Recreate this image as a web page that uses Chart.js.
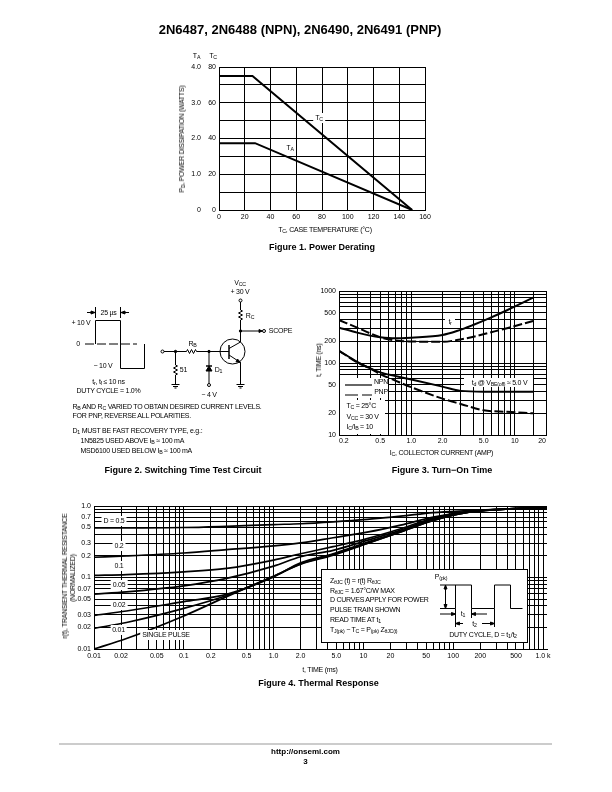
<!DOCTYPE html>
<html>
<head>
<meta charset="utf-8">
<title>2N6487 charts</title>
<script src="https://cdn.jsdelivr.net/npm/chart.js@4/dist/chart.umd.min.js"></script>
<style>
  html, body { margin: 0; background: #fff; }
  #page { position: relative; width: 612px; height: 792px; overflow: hidden; font-family: "Liberation Sans", sans-serif; color: #000; }
  canvas { position: absolute; }
  #art { position: absolute; left: 0; top: 0; }
  .t { position: absolute; white-space: nowrap; font-size: 7px; line-height: 8px; letter-spacing: -0.25px; }
  .t span { display: inline-block; will-change: opacity; }
  .t sub { font-size: 0.75em; vertical-align: -0.25em; line-height: 0; }
  .b { font-weight: bold; font-size: 9px; letter-spacing: 0; }
</style>
</head>
<body>
<div id="page">
  <canvas id="fig1"></canvas>
  <canvas id="fig3"></canvas>
  <canvas id="fig4"></canvas>
  <svg id="art" width="612" height="792" fill="none" stroke="#000" stroke-width="1">
    <!-- footer rule -->
    <path d="M59 744 H552" stroke="#bbb" stroke-width="1.5"/>

    <!-- figure 2: input pulse -->
    <path d="M85 344 H137" stroke-dasharray="9 3"/>
    <path d="M95.5 344 V320.5 H120.5 V368.5 H144.5 V344"/>
    <path d="M95.5 307 V318 M120.5 307 V318 M87 312.5 H95 M121 312.5 H129"/>
    <path d="M95 312.5 l-4 -1.5 v3 z M121 312.5 l4 -1.5 v3 z" fill="#000"/>

    <!-- figure 2: circuit -->
    <circle cx="240.5" cy="300.5" r="1.5"/>
    <path d="M240.5 302 V310 l2 1 l-4 2 l4 2 l-4 2 l4 2 l-2 1 V342 L229 348.5"/>
    <path d="M240.5 331 H262.5"/>
    <circle cx="264" cy="331" r="1.5"/>
    <path d="M262 331 l-3 -1.5 v3 z" fill="#000"/>
    <circle cx="232.5" cy="351.5" r="12.5"/>
    <path d="M229 345 V359" stroke-width="1.5"/>
    <path d="M229 355 L240.5 362.5 V384"/>
    <path d="M240.5 362.5 l-4.5 -0.8 l1.6 -2.6 z" fill="#000"/>
    <path d="M236.5 384.5 H244.5 M238 386.5 H243 M239.5 388 H241.5"/>
    <circle cx="162.5" cy="351.5" r="1.5"/>
    <path d="M164 351.5 H186.5 l1 -2 l2 4 l2 -4 l2 4 l2 -4 l1 2 H229"/>
    <path d="M175.5 351.5 V365 l2 1 l-4 2 l4 2 l-4 2 l4 2 l-2 1 V384"/>
    <path d="M171.5 384.5 H179.5 M173 386.5 H178 M174.5 388 H176.5"/>
    <path d="M209 351.5 V366 M209 371 V383.5"/>
    <path d="M206 366 H212" stroke-width="1.5"/>
    <path d="M209 366 l-3 5 h6 z" fill="#000"/>
    <circle cx="209" cy="385" r="1.5"/>
    <circle cx="175.5" cy="351.5" r="1.2" fill="#000"/>
    <circle cx="209" cy="351.5" r="1.2" fill="#000"/>
    <circle cx="240.5" cy="331" r="1.2" fill="#000"/>

    <!-- figure 3: cleared areas and legend samples -->
    <rect x="445" y="317" width="10" height="10" fill="#fff" stroke="none"/>
    <rect x="464" y="378" width="69" height="9" fill="#fff" stroke="none"/>
    <rect x="340" y="378" width="48" height="20" fill="#fff" stroke="none"/>
    <rect x="340" y="400" width="45" height="34" fill="#fff" stroke="none"/>
    <path d="M345 385 H372" stroke-width="1.2"/>
    <path d="M345 395 H358 M362 395 H372" stroke-width="1.2"/>

    <!-- figure 4: note box and pulse train -->
    <rect x="321.5" y="569.5" width="206" height="73" fill="#fff"/>
    <path d="M440 585 H471.5 V608.5 H494.5 V585 H510.5 V608.5 H522.5 M440 608.5 H455.5 V585"/>
    <path d="M445.5 587 V606.5"/>
    <path d="M445.5 585 l-1.5 4 h3 z M445.5 608.5 l-1.5 -4 h3 z" fill="#000"/>
    <path d="M455.5 608.5 V627 M471.5 608.5 V618 M494.5 608.5 V627"/>
    <path d="M440 614 H455 M472 614 H487 M463 623.5 H456 M482 623.5 H494"/>
    <path d="M455.5 614 l-4 -1.5 v3 z M471.5 614 l4 -1.5 v3 z M455.5 623.5 l4 -1.5 v3 z M494.5 623.5 l-4 -1.5 v3 z" fill="#000"/>
  </svg>
</div>

<script>
// Figure 1, power derating
const fig1XGrid = [0, 20, 40, 60, 80, 100, 120, 140, 160];
const fig1TcGrid = [0, 10, 20, 30, 40, 50, 60, 70, 80];
const fig1TcLabels = [0, 20, 40, 60, 80];
const fig1TaTicks = [0, 1, 2, 3, 4];
const fig1TaText = ['0', '1.0', '2.0', '3.0', '4.0'];
const tcTemps = [0, 26, 150];
const tcWatts = [75, 75, 0];
const taTemps = [0, 28, 150];
const taWatts = [1.87, 1.87, 0];

// Figure 3, turn-on time
const fig3XGrid = [0.2, 0.3, 0.4, 0.5, 0.6, 0.7, 0.8, 0.9, 1, 2, 3, 4, 5, 6, 7, 8, 9, 10, 15, 20];
const fig3XLabels = [0.2, 0.5, 1, 2, 5, 10, 20];
const fig3XText = ['0.2', '0.5', '1.0', '2.0', '5.0', '10', '20'];
const fig3YGrid = [10, 20, 30, 40, 50, 60, 70, 80, 90, 100, 200, 300, 400, 500, 600, 700, 800, 900, 1000];
const fig3YLabels = [10, 20, 50, 100, 200, 500, 1000];
const trCurrent = [0.2, 0.3, 0.4, 0.5, 0.7, 1, 2, 2.75, 4, 5.7, 8.4, 15];
const trNpn = [310, 264, 240, 228, 220, 225, 245, 278, 340, 420, 540, 807];
const trPnp = [395, 310, 258, 228, 205, 199, 197, 208, 232, 264, 304, 383];
const tdCurrent = [0.2, 0.3, 0.4, 0.5, 0.7, 1, 2, 3, 5, 8.4, 15];
const tdNpn = [148, 104, 84, 74, 66, 59, 47, 41, 40, 40, 40];
const tdPnp = [148, 102, 84, 70, 57, 46, 32, 27, 22, 21, 20];

// Figure 4, thermal response
const fig4XGrid = [
  0.01, 0.02, 0.03, 0.04, 0.05, 0.06, 0.07, 0.08, 0.09,
  0.1, 0.2, 0.3, 0.4, 0.5, 0.6, 0.7, 0.8, 0.9,
  1, 2, 3, 4, 5, 6, 7, 8, 9,
  10, 20, 30, 40, 50, 60, 70, 80, 90,
  100, 200, 300, 400, 500, 600, 700, 800, 900, 1000
];
const fig4XLabels = [0.01, 0.02, 0.05, 0.1, 0.2, 0.5, 1, 2, 5, 10, 20, 50, 100, 200, 500, 1000];
const fig4XText = ['0.01', '0.02', '0.05', '0.1', '0.2', '0.5', '1.0', '2.0', '5.0', '10', '20', '50', '100', '200', '500', '1.0 k'];
const fig4YGrid = [
  0.01, 0.02, 0.03, 0.04, 0.05, 0.06, 0.07, 0.08, 0.09,
  0.1, 0.2, 0.3, 0.4, 0.5, 0.6, 0.7, 0.8, 0.9, 1
];
const fig4YLabels = [0.01, 0.02, 0.03, 0.05, 0.07, 0.1, 0.2, 0.3, 0.5, 0.7, 1];
const fig4YText = ['0.01', '0.02', '0.03', '0.05', '0.07', '0.1', '0.2', '0.3', '0.5', '0.7', '1.0'];
const pulseTimes = [0.01, 0.023, 0.1, 0.3, 1, 2, 4.6, 11, 26, 60, 140, 330, 1108];
const dutyHalf = [0.493, 0.495, 0.5, 0.52, 0.55, 0.565, 0.6, 0.65, 0.72, 0.81, 0.86, 0.9, 0.95];
const dutyFifth = [0.192, 0.2, 0.22, 0.245, 0.277, 0.305, 0.36, 0.43, 0.54, 0.7, 0.83, 0.9, 0.95];
const dutyTenth = [0.107, 0.11, 0.12, 0.134, 0.175, 0.215, 0.27, 0.35, 0.48, 0.68, 0.83, 0.9, 0.95];
const dutyTwentieth = [0.0585, 0.063, 0.0765, 0.097, 0.144, 0.195, 0.24, 0.33, 0.46, 0.66, 0.82, 0.9, 0.95];
const dutyFiftieth = [0.0295, 0.034, 0.046, 0.058, 0.102, 0.16, 0.215, 0.31, 0.44, 0.64, 0.81, 0.89, 0.95];
const dutyHundredth = [0.0194, 0.0235, 0.037, 0.056, 0.104, 0.155, 0.21, 0.3, 0.435, 0.63, 0.81, 0.89, 0.95];
const singlePulse = [0.01, 0.014, 0.029, 0.054, 0.104, 0.153, 0.205, 0.3, 0.435, 0.63, 0.81, 0.89, 0.95];

Chart.defaults.font.family = '"Liberation Sans", sans-serif';
Chart.defaults.font.size = 7;
Chart.defaults.color = '#000';

const points = (xs, ys) => xs.map((x, i) => ({ x: x, y: ys[i] }));

// puts the canvas so that the plot area lands on the given box of the page
function place(id, box, leftRoom, bottomRoom) {
  const canvas = document.getElementById(id);
  canvas.width = box.r - box.l + leftRoom + 14;
  canvas.height = box.b - box.t + 14 + bottomRoom;
  canvas.style.left = (box.l - leftRoom) + 'px';
  canvas.style.top = (box.t - 14) + 'px';
  return canvas;
}

function axis(type, min, max, grid, labelFor, extra) {
  return Object.assign({
    type: type,
    min: min,
    max: max,
    afterBuildTicks: scale => { scale.ticks = grid.map(v => ({ value: v })); },
    grid: { color: '#000', lineWidth: 1, drawTicks: false },
    border: { color: '#000', width: 1 },
    ticks: { autoSkip: false, maxRotation: 0, minRotation: 0, padding: 3, callback: labelFor }
  }, extra);
}

function line(data, yAxisID, width, dash) {
  return {
    data: data,
    yAxisID: yAxisID,
    borderColor: '#000',
    borderWidth: width,
    borderDash: dash || [],
    pointRadius: 0,
    fill: false
  };
}

function baseOptions() {
  return {
    responsive: false,
    animation: false,
    layout: { padding: { top: 14, right: 14, left: 0, bottom: 0 } },
    plugins: { legend: { display: false }, tooltip: { enabled: false } }
  };
}

const fitHeight = h => scale => { scale.height = h; };
const fitWidth = w => scale => { scale.width = w; };
const labelFrom = (values, text) => v => {
  const i = values.indexOf(v);
  return i < 0 ? '' : (text ? text[i] : String(v));
};

// Figure 1
const fig1Options = baseOptions();
fig1Options.scales = {
  x: axis('linear', 0, 160, fig1XGrid, v => String(v), { afterFit: fitHeight(12) }),
  y: axis('linear', 0, 80, fig1TcGrid, labelFrom(fig1TcLabels), { afterFit: fitWidth(15), position: 'left', weight: 0 }),
  yTa: axis('linear', 0, 4, fig1TaTicks, labelFrom(fig1TaTicks, fig1TaText), {
    afterFit: fitWidth(35), position: 'left', weight: 1,
    grid: { display: false, drawTicks: false }, border: { display: false }
  })
};
new Chart(place('fig1', { l: 219, r: 425, t: 67, b: 210 }, 50, 12), {
  type: 'line',
  data: { datasets: [
    line(points(tcTemps, tcWatts), 'y', 2),
    line(points(taTemps, taWatts), 'yTa', 2)
  ] },
  options: fig1Options
});

// Figure 3
const fig3Options = baseOptions();
fig3Options.scales = {
  x: axis('logarithmic', 0.2, 20, fig3XGrid, labelFrom(fig3XLabels, fig3XText), { afterFit: fitHeight(12) }),
  y: axis('logarithmic', 10, 1000, fig3YGrid, labelFrom(fig3YLabels), { afterFit: fitWidth(30) })
};
fig3Options.scales.x.ticks.align = 'inner';
fig3Options.scales.x.ticks.padding = 2;
new Chart(place('fig3', { l: 339, r: 546, t: 291, b: 435 }, 30, 12), {
  type: 'line',
  data: { datasets: [
    line(points(trCurrent, trNpn), 'y', 2),
    line(points(trCurrent, trPnp), 'y', 2, [9, 3]),
    line(points(tdCurrent, tdNpn), 'y', 2),
    line(points(tdCurrent, tdPnp), 'y', 2, [9, 3])
  ].map(d => Object.assign(d, { cubicInterpolationMode: 'monotone' })) },
  options: fig3Options
});

// Figure 4
const fig4Options = baseOptions();
fig4Options.scales = {
  x: axis('logarithmic', 0.01, 1108, fig4XGrid, labelFrom(fig4XLabels, fig4XText), { afterFit: fitHeight(12) }),
  y: axis('logarithmic', 0.01, 1, fig4YGrid, labelFrom(fig4YLabels, fig4YText), { afterFit: fitWidth(30) })
};
new Chart(place('fig4', { l: 94, r: 547, t: 506, b: 649 }, 30, 12), {
  type: 'line',
  data: { datasets: [dutyHalf, dutyFifth, dutyTenth, dutyTwentieth, dutyFiftieth, dutyHundredth, singlePulse]
    .map(ys => Object.assign(line(points(pulseTimes, ys), 'y', 1.7), { cubicInterpolationMode: 'monotone' })) },
  options: fig4Options
});

// text that needs subscripts or sits on top of the plots
const page = document.getElementById('page');
function text(x, y, html, opts) {
  const o = opts || {};
  const el = document.createElement('div');
  el.className = 't' + (o.bold ? ' b' : '');
  el.innerHTML = '<span>' + html + '</span>';
  el.style.left = x + 'px';
  el.style.top = y + 'px';
  el.style.transform = (o.left ? 'translate(0,-50%)' : 'translate(-50%,-50%)') + (o.rotate ? ' rotate(-90deg)' : '');
  if (o.size) el.style.fontSize = o.size + 'px';
  if (o.clear) { el.style.background = '#fff'; el.style.padding = '1px 2px'; }
  page.appendChild(el);
}

text(300, 30, '2N6487, 2N6488 (NPN), 2N6490, 2N6491 (PNP)', { bold: true, size: 13 });
text(305.5, 752, 'http://onsemi.com', { bold: true, size: 8 });
text(305.5, 762, '3', { bold: true, size: 8 });

// figure 1 text
text(196.5, 56, 'T<sub>A</sub>');
text(213, 56, 'T<sub>C</sub>');
text(181.5, 139, 'P<sub>D</sub>, POWER DISSIPATION (WATTS)', { rotate: true });
text(325, 229.5, 'T<sub>C</sub>, CASE TEMPERATURE (°C)');
text(319, 118, 'T<sub>C</sub>', { clear: true });
text(290, 148, 'T<sub>A</sub>', { clear: true });
text(322, 247, 'Figure 1. Power Derating', { bold: true });

// figure 2 text
text(108.5, 312.5, '25 µs');
text(81, 322.5, '+ 10 V');
text(78, 344, '0');
text(103, 366, '− 10 V');
text(108.5, 381.5, 't<sub>r</sub>, t<sub>f</sub> ≤ 10 ns');
text(108.5, 391, 'DUTY CYCLE = 1.0%');
text(240, 282.5, 'V<sub>CC</sub>');
text(240, 291.5, '+ 30 V');
text(250, 315.5, 'R<sub>C</sub>');
text(280.5, 331, 'SCOPE');
text(192.5, 344, 'R<sub>B</sub>');
text(183.5, 370, '51');
text(218.5, 370, 'D<sub>1</sub>');
text(209, 394.5, '− 4 V');
text(72.5, 406.5, 'R<sub>B</sub> AND R<sub>C</sub> VARIED TO OBTAIN DESIRED CURRENT LEVELS.', { left: true });
text(72.5, 416, 'FOR PNP, REVERSE ALL POLARITIES.', { left: true });
text(72.5, 431, 'D<sub>1</sub> MUST BE FAST RECOVERY TYPE, e.g.:', { left: true });
text(80.5, 441, '1N5825 USED ABOVE I<sub>B</sub> ≈ 100 mA', { left: true });
text(80.5, 451, 'MSD6100 USED BELOW I<sub>B</sub> ≈ 100 mA', { left: true });
text(183, 470, 'Figure 2. Switching Time Test Circuit', { bold: true });

// figure 3 text
text(318.5, 360, 't, TIME (ns)', { rotate: true });
text(441.5, 452.5, 'I<sub>C</sub>, COLLECTOR CURRENT (AMP)');
text(450, 322, 't<sub>r</sub>');
text(499.5, 382.5, 't<sub>d</sub> @ V<sub>BE(off)</sub> ≈ 5.0 V');
text(381, 381.5, 'NPN');
text(381, 391.5, 'PNP');
text(346.5, 406, 'T<sub>C</sub> = 25°C', { left: true });
text(346.5, 416.5, 'V<sub>CC</sub> = 30 V', { left: true });
text(346.5, 427, 'I<sub>C</sub>/I<sub>B</sub> = 10', { left: true });
text(442, 470, 'Figure 3. Turn−On Time', { bold: true });

// figure 4 text
text(65, 576, 'r(t), TRANSIENT THERMAL RESISTANCE', { rotate: true });
text(72.5, 578, '(NORMALIZED)', { rotate: true });
text(320, 670, 't, TIME (ms)');
text(318.5, 683, 'Figure 4. Thermal Response', { bold: true });
text(114, 521, 'D = 0.5', { clear: true });
text(119, 546, '0.2', { clear: true });
text(119, 566, '0.1', { clear: true });
text(119, 585, '0.05', { clear: true });
text(119, 604.5, '0.02', { clear: true });
text(118.5, 629.5, '0.01', { clear: true });
text(166, 634.5, 'SINGLE PULSE', { clear: true });
text(330, 581, 'Z<sub>θJC</sub> (t) = r(t) R<sub>θJC</sub>', { left: true });
text(330, 590.5, 'R<sub>θJC</sub> = 1.67°C/W MAX', { left: true });
text(330, 600, 'D CURVES APPLY FOR POWER', { left: true });
text(330, 610, 'PULSE TRAIN SHOWN', { left: true });
text(330, 620, 'READ TIME AT t<sub>1</sub>', { left: true });
text(330, 630, 'T<sub>J(pk)</sub> − T<sub>C</sub> = P<sub>(pk)</sub> Z<sub>θJC(t)</sub>', { left: true });
text(441, 577, 'P<sub>(pk)</sub>');
text(463, 614, 't<sub>1</sub>');
text(474.5, 623.5, 't<sub>2</sub>');
text(483, 635, 'DUTY CYCLE, D = t<sub>1</sub>/t<sub>2</sub>');
</script>
</body>
</html>
